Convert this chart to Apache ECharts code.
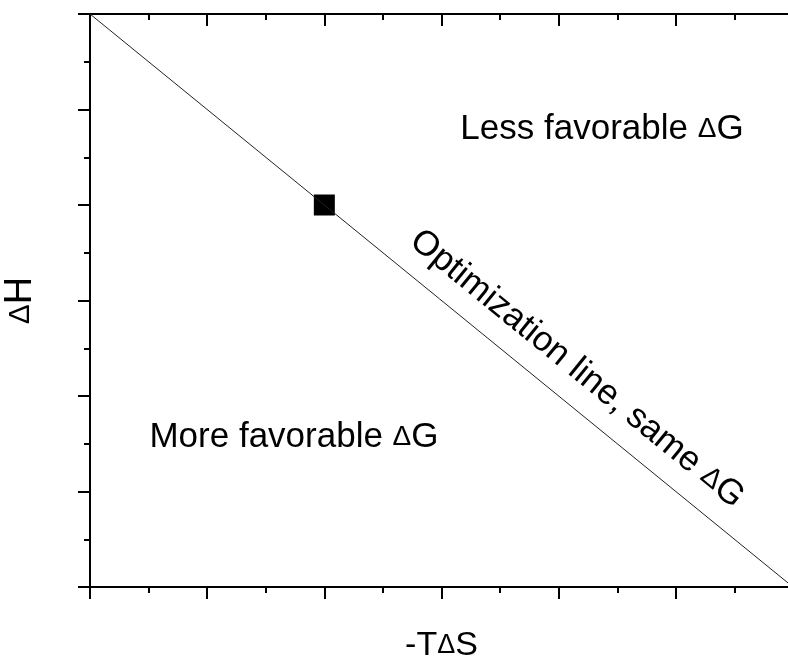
<!DOCTYPE html>
<html>
<head>
<meta charset="utf-8">
<script src="https://cdn.jsdelivr.net/npm/echarts@6/dist/echarts.min.js"></script>
<style>
  html, body { margin: 0; padding: 0; background: #fff; }
  #main { width: 788px; height: 664px; }
</style>
</head>
<body>
<div id="main"></div>
<script>
// optimization line (same dG), ends of the line in axis units
var lineX = [0, 6];
var lineY = [6, 0];
// the single compound point
var pointX = [2];
var pointY = [4];
// axis range
var axisMin = 0;
var axisMax = 6;

var chart = echarts.init(document.getElementById('main'));

var font = 'Liberation Sans, Arial, sans-serif';
var rich = function (size) {
  return {
    a: { fontSize: size, fontFamily: font, color: '#000' },
    d: { fontSize: Math.round(size * 0.8), fontFamily: font, color: '#000' }
  };
};

var baseAxis = {
  type: 'value',
  min: axisMin,
  max: axisMax,
  interval: 1,
  axisLine: { show: true, onZero: false, lineStyle: { color: '#000', width: 2 } },
  axisTick: { show: true, length: 12, lineStyle: { color: '#000', width: 2 } },
  minorTick: { show: true, splitNumber: 2, length: 6, lineStyle: { color: '#000', width: 2 } },
  axisLabel: { show: false },
  splitLine: { show: false }
};

var option = {
  animation: false,
  backgroundColor: '#fff',
  grid: { left: 90, top: 14, right: -5, bottom: 77, containLabel: false, outerBoundsMode: 'none' },
  xAxis: [
    Object.assign({}, baseAxis, {
      position: 'bottom',
      name: '{a|-T}{d|Δ}{a|S}',
      nameLocation: 'middle',
      nameGap: 42,
      nameTextStyle: { rich: rich(34) }
    }),
    Object.assign({}, baseAxis, {
      position: 'top',
      axisTick: { show: true, inside: true, length: 12, lineStyle: { color: '#000', width: 2 } },
      minorTick: { show: true, splitNumber: 2, length: 6, lineStyle: { color: '#000', width: 2 } }
    })
  ],
  yAxis: Object.assign({}, baseAxis, {
    name: '{d|Δ}{a|H}',
    nameLocation: 'middle',
    nameGap: 50,
    nameRotate: 90,
    nameTextStyle: { rich: rich(38) }
  }),
  series: [
    {
      type: 'line',
      data: lineX.map(function (x, i) { return [x, lineY[i]]; }),
      symbol: 'none',
      lineStyle: { color: '#222', width: 1 },
      silent: true
    },
    {
      type: 'scatter',
      data: pointX.map(function (x, i) { return [x, pointY[i]]; }),
      symbol: 'rect',
      symbolSize: 21,
      itemStyle: { color: '#000', opacity: 1 }
    }
  ],
  graphic: [
    {
      type: 'text', x: 602, y: 129,
      style: { text: '{a|Less favorable }{d|Δ}{a|G}', rich: rich(35), align: 'center', verticalAlign: 'middle' }
    },
    {
      type: 'text', x: 294, y: 437,
      style: { text: '{a|More favorable }{d|Δ}{a|G}', rich: rich(35), align: 'center', verticalAlign: 'middle' }
    },
    {
      type: 'text', x: 577, y: 369, rotation: -Math.atan2(573, 703),
      style: { text: '{a|Optimization line, same }{d|Δ}{a|G}', rich: rich(35), align: 'center', verticalAlign: 'middle' }
    }
  ]
};

chart.setOption(option);
</script>
</body>
</html>
